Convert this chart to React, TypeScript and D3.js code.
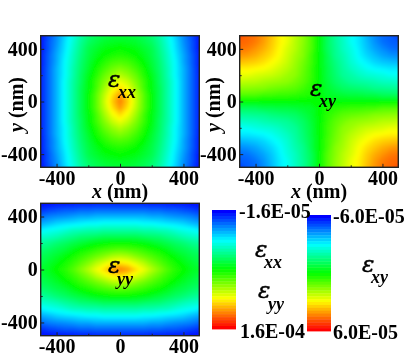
import { useEffect, useRef } from "react";
import * as d3 from "d3";

// strain values in units of 1e-5, one quadrant each (|y| rows, |x| columns, 0..500 nm, 50 nm step)
const gridNm = [0, 50, 100, 150, 200, 250, 300, 350, 400, 450, 500];

const exxQuadrant = [
  [13.9, 12.5, 10.7, 8.8, 7.2, 5.8, 4.4, 3.0, 1.6, 0.3, -1.0],
  [13.4, 12.1, 10.5, 8.8, 7.2, 5.8, 4.4, 3.0, 1.6, 0.3, -1.0],
  [12.3, 11.4, 10.0, 8.4, 7.0, 5.8, 4.4, 3.0, 1.6, 0.3, -1.0],
  [11.4, 10.7, 9.5, 8.3, 7.0, 5.6, 4.4, 3.0, 1.6, 0.3, -1.0],
  [10.4, 9.8, 9.0, 7.9, 6.8, 5.6, 4.2, 2.8, 1.6, 0.3, -1.0],
  [9.5, 9.1, 8.4, 7.6, 6.5, 5.4, 4.2, 2.8, 1.6, 0.3, -1.1],
  [8.6, 8.4, 7.9, 7.2, 6.3, 5.3, 4.0, 2.8, 1.4, 0.2, -1.1],
  [7.9, 7.7, 7.4, 6.8, 6.1, 5.1, 3.9, 2.6, 1.4, 0.2, -1.1],
  [7.4, 7.2, 7.0, 6.5, 6.0, 4.9, 3.7, 2.4, 1.2, 0.0, -1.2],
  [6.8, 6.7, 6.5, 6.1, 5.6, 4.7, 3.5, 2.3, 1.0, 0.0, -1.2],
  [6.3, 6.3, 6.1, 5.8, 5.3, 4.4, 3.3, 2.1, 0.9, -0.2, -1.3],
];

const eyyQuadrant = [
  [13.9, 13.4, 12.3, 11.4, 10.4, 9.5, 8.6, 7.9, 7.4, 6.8, 6.5],
  [12.1, 11.8, 11.1, 10.4, 9.5, 8.8, 8.1, 7.6, 7.0, 6.5, 6.1],
  [10.4, 10.2, 9.6, 9.1, 8.6, 8.1, 7.6, 7.0, 6.5, 6.1, 5.8],
  [8.8, 8.6, 8.4, 8.1, 7.7, 7.4, 6.8, 6.3, 6.0, 5.6, 5.3],
  [7.4, 7.4, 7.2, 7.0, 6.7, 6.3, 6.0, 5.6, 5.3, 4.9, 4.6],
  [5.8, 5.8, 5.8, 5.6, 5.4, 5.3, 4.9, 4.6, 4.2, 3.9, 3.7],
  [4.4, 4.4, 4.4, 4.2, 4.2, 4.0, 3.9, 3.5, 3.2, 3.0, 2.6],
  [3.0, 3.0, 3.0, 2.8, 2.8, 2.6, 2.4, 2.3, 2.1, 1.7, 1.4],
  [1.6, 1.6, 1.6, 1.6, 1.4, 1.4, 1.2, 1.0, 0.9, 0.7, 0.3],
  [0.3, 0.3, 0.3, 0.3, 0.2, 0.2, 0.0, 0.0, -0.2, -0.4, -0.7],
  [-1.0, -1.0, -1.0, -1.0, -1.1, -1.1, -1.1, -1.2, -1.2, -1.3, -1.4],
];

// magnitude only, sign comes from the quadrant (positive upper left / lower right)
const exyQuadrant = [
  [0, 0, 0, 0, 0, 0, 0, 0, 0, 0, 0],
  [0, 0.4, 0.5, 0.6, 0.7, 0.7, 0.8, 0.8, 1.0, 1.0, 1.0],
  [0, 0.5, 0.8, 1.1, 1.2, 1.3, 1.4, 1.6, 1.6, 1.7, 1.7],
  [0, 0.6, 1.1, 1.4, 1.7, 1.8, 1.9, 2.0, 2.2, 2.2, 2.3],
  [0, 0.7, 1.2, 1.7, 1.9, 2.2, 2.4, 2.5, 2.6, 2.8, 2.8],
  [0, 0.7, 1.3, 1.8, 2.2, 2.5, 2.8, 3.0, 3.1, 3.2, 3.2],
  [0, 0.8, 1.4, 1.9, 2.4, 2.8, 3.1, 3.4, 3.6, 3.7, 3.8],
  [0, 0.8, 1.6, 2.0, 2.5, 3.0, 3.4, 3.7, 4.0, 4.2, 4.3],
  [0, 1.0, 1.6, 2.2, 2.6, 3.1, 3.6, 4.0, 4.3, 4.6, 4.7],
  [0, 1.0, 1.7, 2.2, 2.8, 3.2, 3.7, 4.2, 4.6, 4.8, 4.9],
  [0, 1.0, 1.7, 2.3, 2.8, 3.2, 3.8, 4.3, 4.7, 4.9, 5.2],
];

const rainbow = ["#0000ff", "#00ffff", "#00ff00", "#ffff00", "#ff0000"];
const axisTicks = [-400, -200, 0, 200, 400];
const labelledTicks = [-400, 0, 400];
const exxRange: [number, number] = [-1.6, 16];
const exyRange: [number, number] = [-6, 6];
const FONT = "'Liberation Serif', 'Times New Roman', serif";

function colourScale(range: [number, number]) {
  return d3
    .scaleLinear<string>()
    .domain(d3.quantize(d3.interpolate(range[0], range[1]), rainbow.length))
    .range(rainbow);
}

// full -500..500 grid from one quadrant, flat array for d3.contours
function unfold(q: number[][], antisym = false) {
  const n = gridNm.length * 2 - 1;
  const out: number[] = [];
  for (let r = 0; r < n; r++) {
    const yi = r - (gridNm.length - 1);
    for (let c = 0; c < n; c++) {
      const xi = c - (gridNm.length - 1);
      const v = q[Math.abs(yi)][Math.abs(xi)];
      out.push(antisym ? -v * Math.sign(xi) * Math.sign(yi) : v);
    }
  }
  return out;
}

function Epsilon({ x, y, sub, sx, sy }: { x: number; y: number; sub: string; sx: number; sy: number }) {
  return (
    <g fontStyle="italic" fill="#000">
      <text x={x} y={y} fontSize={23} fontFamily="'DejaVu Serif', serif" stroke="#000" strokeWidth={0.5}>ε</text>
      <text x={sx} y={sy} fontSize={18} fontWeight="bold" fontFamily={FONT}>{sub}</text>
    </g>
  );
}

type PanelProps = {
  id: string;
  left: number;
  right: number;
  top: number;
  bottom: number;
  values: number[];
  range: [number, number];
  xLabel?: boolean;
  yLabelX?: number;
};

function Panel({ id, left, right, top, bottom, values, range, xLabel, yLabelX }: PanelProps) {
  const xAxisRef = useRef<SVGGElement>(null);
  const yAxisRef = useRef<SVGGElement>(null);

  const x = d3.scaleLinear().domain([-500, 500]).range([left, right]);
  const y = d3.scaleLinear().domain([-500, 500]).range([bottom, top]);

  const n = gridNm.length * 2 - 1;
  const colour = colourScale(range);
  const thresholds = d3.quantize(d3.interpolate(range[0], range[1]), 110);
  const bands = d3.contours().size([n, n]).thresholds(thresholds)(values);

  // contour coordinates run 0..n, grid point i sits at i + 0.5
  const path = d3.geoPath(
    d3.geoTransform({
      point(px, py) {
        this.stream.point(x(px * 50 - 525), y(py * 50 - 525));
      },
    })
  );

  useEffect(() => {
    const fmt = (d: d3.NumberValue) => (labelledTicks.includes(+d) ? String(d) : "");
    const gx = d3.select(xAxisRef.current!);
    gx.call(d3.axisBottom(x).tickValues(axisTicks).tickSize(-3.5).tickPadding(3.5).tickFormat(fmt));
    const gy = d3.select(yAxisRef.current!);
    gy.call(d3.axisLeft(y).tickValues(axisTicks).tickSize(-3.5).tickPadding(3).tickFormat(fmt));
    for (const g of [gx, gy]) {
      g.select(".domain").remove();
      g.selectAll("text")
        .attr("font-family", FONT)
        .attr("font-weight", "bold")
        .attr("font-size", 20)
        .attr("fill", "#000");
      g.selectAll("line").attr("stroke", "#222").attr("stroke-width", 1);
    }
    gx.selectAll<SVGLineElement, number>("line").filter((d) => Math.abs(d) === 200).attr("y2", -2);
    gy.selectAll<SVGLineElement, number>("line").filter((d) => Math.abs(d) === 200).attr("x2", 2);
  });

  return (
    <g>
      <clipPath id={`clip-${id}`}>
        <rect x={left} y={top} width={right - left} height={bottom - top} />
      </clipPath>
      <g clipPath={`url(#clip-${id})`}>
        <g filter="url(#soft)">
          <rect x={left - 8} y={top - 8} width={right - left + 16} height={bottom - top + 16} fill={colour(range[0])} />
          {bands.map((b, i) => (
            <path key={i} d={path(b) ?? ""} fill={colour(b.value)} />
          ))}
        </g>
      </g>
      <g ref={xAxisRef} transform={`translate(0,${bottom})`} />
      <g ref={yAxisRef} transform={`translate(${left},0)`} />
      <rect x={left} y={top} width={right - left} height={bottom - top} fill="none" stroke="#222" strokeWidth={1.4} />
      {xLabel && (
        <text x={(left + right) / 2} y={bottom + 31} textAnchor="middle" fontFamily={FONT} fontWeight="bold" fontSize={20}>
          <tspan fontStyle="italic">x</tspan> (nm)
        </text>
      )}
      {yLabelX !== undefined && (
        <text
          transform={`translate(${yLabelX},${(top + bottom) / 2 + 3}) rotate(-90)`}
          textAnchor="middle"
          fontFamily={FONT}
          fontWeight="bold"
          fontSize={20}
        >
          <tspan fontStyle="italic">y</tspan> (nm)
        </text>
      )}
    </g>
  );
}

function ColorBar({ left, right, top, bottom, range }: { left: number; right: number; top: number; bottom: number; range: [number, number] }) {
  const colour = colourScale(range);
  const steps = d3.quantize(d3.interpolate(range[0], range[1]), 40);
  const band = d3.scaleBand<number>().domain(d3.range(steps.length)).range([top, bottom]);
  return (
    <g>
      {steps.map((v, i) => (
        <rect key={i} x={left} y={band(i)} width={right - left} height={band.bandwidth() + 0.4} fill={colour(v)} />
      ))}
    </g>
  );
}

const barLabel = { fontFamily: FONT, fontWeight: "bold", fontSize: 20 } as const;

export default function App() {
  const exx = unfold(exxQuadrant);
  const eyy = unfold(eyyQuadrant);
  const exy = unfold(exyQuadrant, true);

  return (
    <svg width={407} height={357} style={{ position: "absolute", left: 0, top: 0, background: "#fff" }}>
      <defs>
        <filter id="soft" x="-10%" y="-10%" width="120%" height="120%">
          <feGaussianBlur stdDeviation={1.6} />
        </filter>
        <filter id="scan" x="0" y="0" width="100%" height="100%">
          <feGaussianBlur stdDeviation={0.4} />
        </filter>
      </defs>

      {/* the reference is a slightly soft raster, keep that look */}
      <g filter="url(#scan)">
        <rect width={407} height={357} fill="#fff" />
        <Panel id="xx" left={40.7} right={199.3} top={35.7} bottom={167.3} values={exx} range={exxRange} xLabel yLabelX={23} />
        <Panel id="xy" left={239.7} right={398.3} top={35.7} bottom={167.3} values={exy} range={exyRange} xLabel yLabelX={220} />
        <Panel id="yy" left={40.7} right={199.3} top={203.3} bottom={335.7} values={eyy} range={exxRange} />

        <Epsilon x={108} y={87} sub="xx" sx={118} sy={98} />
        <Epsilon x={310} y={96} sub="xy" sx={319} sy={107} />
        <Epsilon x={108} y={273} sub="yy" sx={117} sy={285} />

        <ColorBar left={212} right={236} top={210} bottom={329} range={exxRange} />
        <ColorBar left={307} right={331} top={215} bottom={331} range={exyRange} />

        <text x={239} y={218} {...barLabel}>-1.6E-05</text>
        <text x={240} y={338} {...barLabel}>1.6E-04</text>
        <text x={333} y={223} {...barLabel}>-6.0E-05</text>
        <text x={333} y={339} {...barLabel}>6.0E-05</text>

        <Epsilon x={255} y={257} sub="xx" sx={264} sy={268} />
        <Epsilon x={258} y={298} sub="yy" sx={268} sy={310} />
        <Epsilon x={362} y={272} sub="xy" sx={371} sy={283} />
      </g>
    </svg>
  );
}
